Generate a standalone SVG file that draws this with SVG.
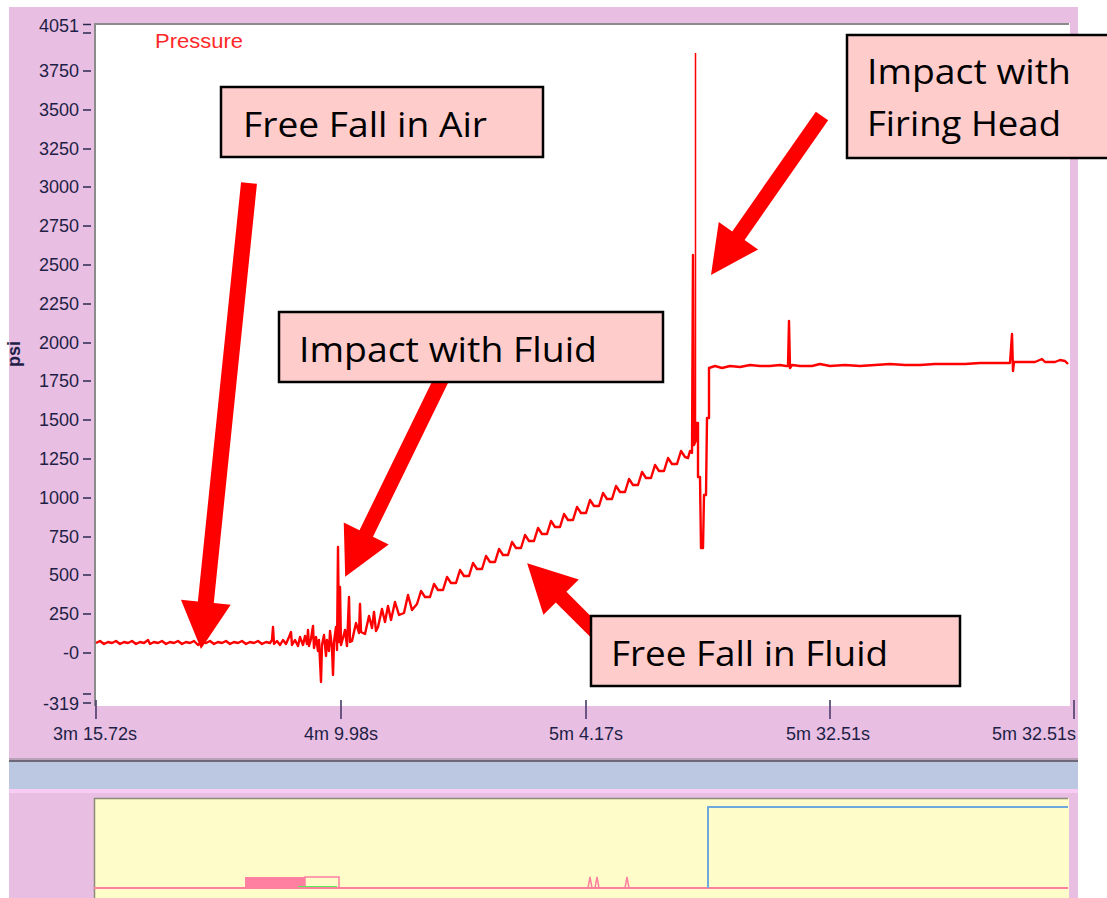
<svg xmlns="http://www.w3.org/2000/svg" width="1107" height="898" viewBox="0 0 1107 898">
<style>
.ax{font-family:"Liberation Sans",Arial,sans-serif;font-size:18px;fill:#1e1e46}
.tk{stroke:#2a2a50;stroke-width:1.5}
.xt{stroke:#4b3b6b;stroke-width:1.6}
.box{fill:#FFCCCC;stroke:#000;stroke-width:2.5}
.lbl{font-family:"Open Sans","Noto Sans",sans-serif;font-size:35px;fill:#000}
.arr{fill:#FF0000}
.trace{fill:none;stroke:#FF0000;stroke-width:2.4;stroke-linejoin:round}
</style>
<rect width="1107" height="898" fill="#fff"/>
<g id="background">
<rect x="9" y="7" width="1069" height="891" fill="#E8BEE2"/>
<rect x="94" y="23" width="976" height="683" fill="#fff"/>
<line x1="94" y1="24" x2="1069" y2="24" stroke="#8c8c8c" stroke-width="2"/>
<line x1="95" y1="23" x2="95" y2="706" stroke="#8c8c8c" stroke-width="2"/>
<rect x="9" y="758" width="1069" height="2" fill="#b8a2b8"/>
<rect x="9" y="760" width="1069" height="2" fill="#6f6878"/>
<rect x="9" y="762" width="1069" height="27" fill="#BCC8E2"/>
<rect x="9" y="789" width="1069" height="4" fill="#F8CCF4"/>
<rect x="94" y="798" width="975" height="100" fill="#FEFDCA"/>
<line x1="94" y1="798.5" x2="1068" y2="798.5" stroke="#8b8b7a" stroke-width="1.5"/>
<line x1="94.5" y1="798" x2="94.5" y2="898" stroke="#8b8b7a" stroke-width="1.5"/>
</g>
<g id="y-axis">
<text class="ax" x="20" y="354" text-anchor="middle" font-weight="bold" font-size="17" transform="rotate(-90 20 354)">psi</text>
<g text-anchor="end">
<text class="ax" x="79" y="32">4051</text>
<text class="ax" x="79" y="77">3750</text>
<text class="ax" x="79" y="116">3500</text>
<text class="ax" x="79" y="155">3250</text>
<text class="ax" x="79" y="193">3000</text>
<text class="ax" x="79" y="232">2750</text>
<text class="ax" x="79" y="271">2500</text>
<text class="ax" x="79" y="310">2250</text>
<text class="ax" x="79" y="349">2000</text>
<text class="ax" x="79" y="387">1750</text>
<text class="ax" x="79" y="426">1500</text>
<text class="ax" x="79" y="465">1250</text>
<text class="ax" x="79" y="504">1000</text>
<text class="ax" x="79" y="543">750</text>
<text class="ax" x="79" y="581">500</text>
<text class="ax" x="79" y="620">250</text>
<text class="ax" x="79" y="659">-0</text>
<text class="ax" x="79" y="710">-319</text>
</g>
<path class="tk" d="M83 24.5H91M83 33H91M83 71H91M83 110H91M83 149H91M83 187H91M83 226H91M83 265H91M83 304H91M83 343H91M83 381H91M83 420H91M83 459H91M83 498H91M83 537H91M83 575H91M83 614H91M83 653H91M83 694H91M83 703H91"/>
</g>
<g id="x-axis">
<path class="xt" d="M96 700V719M341 700V719M586 700V719M830 700V719M1074 700V719"/>
<text class="ax" x="95" y="740" text-anchor="middle">3m 15.72s</text>
<text class="ax" x="341" y="740" text-anchor="middle">4m 9.98s</text>
<text class="ax" x="586" y="740" text-anchor="middle">5m 4.17s</text>
<text class="ax" x="828" y="740" text-anchor="middle">5m 32.51s</text>
<text class="ax" x="1076" y="740" text-anchor="end">5m 32.51s</text>
</g>
<g id="legend">
<text x="155" y="48" font-family="Liberation Sans,Arial,sans-serif" font-size="20" fill="#FF2828" textLength="88" lengthAdjust="spacingAndGlyphs">Pressure</text>
</g>
<g id="trace">
<polyline class="trace" points="96,643 100,641 104,644 108,642 112,643 116,641 120,644 124,642 128,643 132,641 136,644 140,642 144,643 148,640 150,644 154,642 158,643 162,641 166,644 170,642 174,643 178,641 182,644 186,642 190,643 194,641 198,645 202,642 206,643 210,641 214,644 218,642 222,643 226,641 230,644 234,642 238,643 242,641 246,644 250,642 254,643 258,641 262,644 266,642 270,643 272,640 273,627 274,644 277,641 280,645 283,640 286,644 289,637 291,632 292,645 295,640 298,646 300,637 303,645 305,636 307,644 308,630 309,646 311,639 313,626 314,648 316,637 318,651 319,640 321,682 322,645 324,635 326,656 327,640 329,651 330,631 332,648 333,675 334,642 336,627 337,650 338,547 339,642 340,587 341,645 343,638 345,630 347,646 349,597 350,642 352,641 356,623 359,633 360,604 361,632 365,634 369,616 372,628 374,612 376,631 378,627 382,609 385,622 388,606 391,620 395,602 399,615 404,613 408,595 412,610 417,604 421,591 425,597 430,597 434,584 438,590 443,590 447,577 451,583 456,583 460,570 464,576 469,576 473,563 477,569 482,569 486,556 490,562 495,562 499,549 503,555 508,555 512,542 516,548 521,548 525,535 529,541 534,541 538,528 542,534 547,534 551,521 555,527 560,527 564,514 568,520 573,520 577,507 581,513 586,513 590,500 594,506 599,506 603,493 607,499 612,499 616,486 620,492 625,492 629,479 633,485 638,485 642,472 646,478 651,478 655,465 659,471 664,471 668,458 672,464 677,464 681,451 685,457 688,458 690,451 692,453 693,255 694,445 696,440 696,423 698,423 698,477 700,477 701,548 703,548 704,495 706,495 707,418 709,418 709,368 715,366 722,368 730,366 740,367 750,365 760,366 770,366 780,365 786,366 788,366 789,321 790,368 792,365 800,366 812,366 820,364 830,366 845,365 860,366 875,365 890,364 905,365 920,365 935,364 950,364 965,364 980,363 995,363 1005,363 1010,363 1012,334 1013,371 1014,362 1025,362 1035,362 1042,359 1045,362 1055,362 1060,360 1065,361 1068,364"/>
<line x1="695.5" y1="53" x2="695.5" y2="440" stroke="#FF0000" stroke-width="1.5"/>
</g>
<g id="overview">
<rect x="245" y="877" width="60" height="11" fill="#FF80A0"/>
<polyline points="305,888 305,877 339,877 339,888" fill="none" stroke="#FF80A0" stroke-width="1.5"/>
<line x1="298" y1="887" x2="337" y2="887" stroke="#55EE55" stroke-width="2"/>
<line x1="94" y1="888" x2="1068" y2="888" stroke="#FF7F9E" stroke-width="2"/>
<polyline points="588,888 590,877 592,888 595,888 597,877 599,888" fill="none" stroke="#FF7F9E" stroke-width="1.5"/>
<polyline points="625,888 627,877 629,888" fill="none" stroke="#FF7F9E" stroke-width="1.5"/>
<polyline points="708,888 708,807 1068,807" fill="none" stroke="#6FA8DC" stroke-width="2"/>
</g>
<g id="connectors">
<polygon class="arr" transform="translate(249,183) rotate(95.88)" points="0,-8 421.5,-8 421.5,-25 468.5,0 421.5,25 421.5,8 0,8"/>
<polygon class="arr" transform="translate(446,370) rotate(116)" points="0,-7.5 182,-7.5 182,-25 230,0 182,25 182,7.5 0,7.5"/>
<polygon class="arr" transform="translate(822,116) rotate(124.92)" points="0,-7.5 146,-7.5 146,-24 193.9,0 146,24 146,7.5 0,7.5"/>
<polygon class="arr" transform="translate(612,648) rotate(-135)" points="0,-7.5 72,-7.5 72,-25 120,0 72,25 72,7.5 0,7.5"/>
</g>
<g id="node-free-fall-air">
<rect class="box" x="221" y="87" width="322" height="70"/>
<text class="lbl" x="243" y="137" textLength="244" lengthAdjust="spacingAndGlyphs">Free Fall in Air</text>
</g>
<g id="node-impact-fluid">
<rect class="box" x="279" y="312" width="384" height="70"/>
<text class="lbl" x="299" y="362" textLength="298" lengthAdjust="spacingAndGlyphs">Impact with Fluid</text>
</g>
<g id="node-impact-firing-head">
<rect class="box" x="847" y="35" width="270" height="123"/>
<text class="lbl" x="867" y="84" textLength="204" lengthAdjust="spacingAndGlyphs">Impact with</text>
<text class="lbl" x="867" y="136" textLength="194" lengthAdjust="spacingAndGlyphs">Firing Head</text>
</g>
<g id="node-free-fall-fluid">
<rect class="box" x="591" y="616" width="369" height="70"/>
<text class="lbl" x="611" y="666" textLength="277" lengthAdjust="spacingAndGlyphs">Free Fall in Fluid</text>
</g>
</svg>
